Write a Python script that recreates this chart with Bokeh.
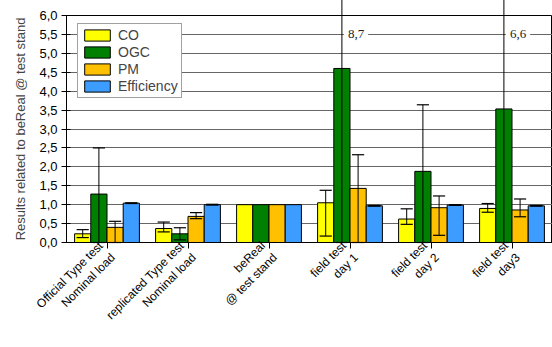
import math
from bokeh.plotting import figure
from bokeh.models import ColumnDataSource, Legend, LegendItem, Label, CustomJSTickFormatter, FixedTicker
from bokeh.embed import file_html
from bokeh.resources import INLINE

categories = ["Official Type test\nNominal load", "replicated Type test\nNominal load",
              "beReal\n@ test stand", "field test\nday 1", "field test\nday 2", "field test\nday3"]
series = ["CO", "OGC", "PM", "Efficiency"]
colors = ["#FFFF00", "#008000", "#FFC000", "#3D9CFF"]

co = [0.23, 0.37, 1.0, 1.05, 0.62, 0.90]
co_low = [0.13, 0.28, None, 0.17, 0.48, 0.80]
co_high = [0.34, 0.54, None, 1.38, 0.89, 1.03]

ogc = [1.28, 0.23, 1.0, 4.60, 1.88, 3.53]
ogc_low = [0.0, 0.07, None, 0.0, 0.0, 0.0]
ogc_high = [2.50, 0.39, None, 8.7, 3.64, 6.6]

pm = [0.40, 0.69, 1.0, 1.43, 0.92, 0.86]
pm_low = [0.0, 0.63, None, 0.0, 0.19, 0.68]
pm_high = [0.56, 0.79, None, 2.32, 1.23, 1.15]

eff = [1.04, 1.0, 1.0, 0.97, 0.99, 0.97]
eff_low = [1.03, 0.99, None, 0.96, 0.98, 0.96]
eff_high = [1.05, 1.01, None, 0.98, 1.00, 0.98]

off_labels = ["8,7", "6,6"]
off_groups = [3, 5]

y_ticks = [i * 0.5 for i in range(13)]

values = [co, ogc, pm, eff]
lows = [co_low, ogc_low, pm_low, eff_low]
highs = [co_high, ogc_high, pm_high, eff_high]

FONT = "Liberation Sans"
N = len(categories)
FRAME_H = 228

p = figure(width=552, height=347, output_backend="svg", toolbar_location=None,
           x_range=(-0.5, N - 0.5), y_range=(0, 6),
           min_border_left=66, min_border_right=0, min_border_top=15, min_border_bottom=92)

offsets = [-0.3, -0.1, 0.1, 0.3]
bar_w = 0.2
items = []
for s, vals, col, off in zip(series, values, colors, offsets):
    xs = [i + off for i in range(N)]
    src = ColumnDataSource(dict(x=xs, top=vals))
    r = p.vbar(x="x", top="top", width=bar_w, source=src, fill_color=col,
               line_color="black", line_width=1)
    items.append(LegendItem(label=s, renderers=[r]))

# error bars
for vals, lo, hi, off in zip(values, lows, highs, offsets):
    x0, y0, y1, cx0, cx1, cyl, cyh = [], [], [], [], [], [], []
    for i in range(N):
        if lo[i] is None:
            continue
        x = i + off
        x0.append(x); y0.append(lo[i]); y1.append(hi[i])
        cx0.append(x - 0.075); cx1.append(x + 0.075); cyl.append(lo[i]); cyh.append(hi[i])
    p.segment(x0=x0, y0=y0, x1=x0, y1=y1, line_color="black", line_width=1, level="overlay")
    p.segment(x0=cx0, y0=cyh, x1=cx1, y1=cyh, line_color="black", line_width=1.2, level="overlay")
    p.segment(x0=cx0, y0=cyl, x1=cx1, y1=cyl, line_color="black", line_width=1.2, level="overlay")

for lab, g in zip(off_labels, off_groups):
    p.add_layout(Label(x=g + offsets[1], y=5.5, text=lab, text_font="Liberation Serif",
                       text_font_size="13px", text_baseline="middle", text_align="left",
                       x_offset=2, background_fill_color="white", padding=4,
                       text_color="#222222"))

legend = Legend(items=items, location=(11, FRAME_H - 7 - 77), glyph_width=32, glyph_height=14,
                label_height=14, spacing=1, padding=3, margin=0, label_standoff=5,
                label_text_font=FONT, label_text_font_size="14px",
                border_line_color="#444444", border_line_width=1,
                background_fill_color="white", background_fill_alpha=1)
p.add_layout(legend)

p.xaxis.ticker = FixedTicker(ticks=list(range(N)))
p.xaxis.major_label_overrides = {i: c for i, c in enumerate(categories)}
p.xaxis.major_label_orientation = math.pi / 4
p.xaxis.major_label_text_font = FONT
p.xaxis.major_label_text_font_size = "12px"
p.xaxis.major_label_text_color = "black"
p.xaxis.major_tick_out = 6
p.xaxis.major_tick_in = 0
p.xaxis.minor_tick_line_color = None
p.xaxis.axis_line_color = "black"
p.xaxis.major_tick_line_color = "black"
p.xaxis.major_label_standoff = 1

p.yaxis.ticker = FixedTicker(ticks=y_ticks)
p.yaxis.formatter = CustomJSTickFormatter(code="return tick.toFixed(1).replace('.', ',');")
p.yaxis.major_label_text_font = FONT
p.yaxis.major_label_text_font_size = "13px"
p.yaxis.major_label_text_color = "black"
p.yaxis.major_tick_out = 5
p.yaxis.major_tick_in = 4
p.yaxis.minor_tick_line_color = None
p.yaxis.axis_line_color = "black"
p.yaxis.major_tick_line_color = "black"
p.yaxis.major_label_standoff = 4
p.yaxis.axis_label = "Results related to beReal @ test stand"
p.yaxis.axis_label_text_font = FONT
p.yaxis.axis_label_text_font_size = "13px"
p.yaxis.axis_label_text_font_style = "normal"
p.yaxis.axis_label_standoff = 8

p.xgrid.grid_line_color = None
p.ygrid.grid_line_color = "#666666"
p.ygrid.grid_line_width = 1
p.outline_line_color = "black"
p.outline_line_width = 1

open("out.html", "w").write(file_html(p, INLINE))
